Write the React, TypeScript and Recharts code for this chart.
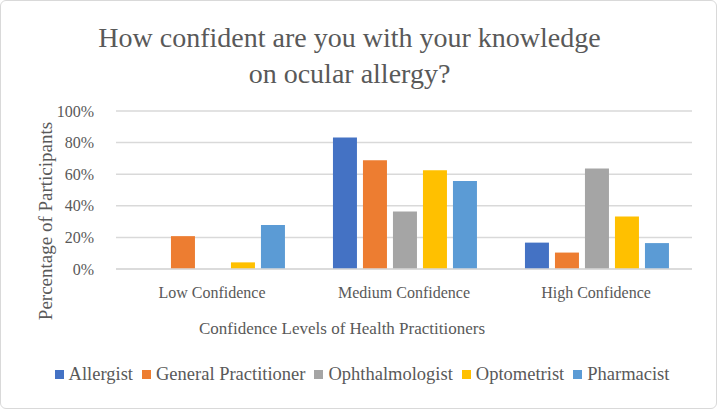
import { BarChart, Bar, XAxis, YAxis, CartesianGrid, Legend, Label } from 'recharts'

const levels = ['Low Confidence', 'Medium Confidence', 'High Confidence']
const allergist = [0, 83.3, 16.7]
const generalPractitioner = [20.8, 68.8, 10.4]
const ophthalmologist = [0, 36.4, 63.6]
const optometrist = [4.2, 62.5, 33.3]
const pharmacist = [27.9, 55.7, 16.4]
const yTicks = [0, 20, 40, 60, 80, 100]

const series = [
  { key: 'Allergist', values: allergist, color: '#4472C4' },
  { key: 'General Practitioner', values: generalPractitioner, color: '#ED7D31' },
  { key: 'Ophthalmologist', values: ophthalmologist, color: '#A5A5A5' },
  { key: 'Optometrist', values: optometrist, color: '#FFC000' },
  { key: 'Pharmacist', values: pharmacist, color: '#5B9BD5' },
]

const data = levels.map((level, i) => {
  const row: Record<string, string | number> = { level }
  series.forEach((s) => {
    row[s.key] = s.values[i]
  })
  return row
})

const FONT = '"Liberation Serif", serif'
const TEXT = '#595959'

function LegendContent() {
  return (
    <div style={{ display: 'flex', justifyContent: 'center', fontFamily: FONT, fontSize: 18.5, color: TEXT, paddingLeft: 40 }}>
      {series.map((s) => (
        <span key={s.key} style={{ display: 'flex', alignItems: 'center', marginRight: 9 }}>
          <span style={{ width: 9, height: 9, background: s.color, display: 'inline-block', marginRight: 5 }} />
          {s.key}
        </span>
      ))}
    </div>
  )
}

// axis titles sit a little off the plot centre in the original
const xTitle = (props: any) => {
  const { x, y, width, height } = props.viewBox
  return (
    <text x={x + width / 2 - 62} y={y + height - 3} textAnchor="middle" fill={TEXT} fontSize={17} fontFamily={FONT}>
      Confidence Levels of Health Practitioners
    </text>
  )
}

const yTitle = (props: any) => {
  const { y, height } = props.viewBox
  const cx = 51
  const cy = y + height / 2 + 31
  return (
    <text x={cx} y={cy} transform={`rotate(-90, ${cx}, ${cy})`} textAnchor="middle" fill={TEXT} fontSize={19} fontFamily={FONT}>
      Percentage of Participants
    </text>
  )
}

export default function App() {
  return (
    <div
      style={{
        position: 'absolute',
        left: 0,
        top: 0,
        width: 717,
        height: 409,
        boxSizing: 'border-box',
        border: '1px solid #d9d9d9',
        borderRadius: 6,
        background: '#fff',
        fontFamily: FONT,
      }}
    >
      <div
        style={{
          position: 'absolute',
          top: 19,
          left: 0,
          width: 697,
          textAlign: 'center',
          fontSize: 28,
          lineHeight: '36px',
          color: TEXT,
        }}
      >
        How confident are you with your knowledge
        <br />
        on ocular allergy?
      </div>
      <BarChart
        width={715}
        height={407}
        data={data}
        margin={{ top: 110, right: 24, bottom: 47, left: 0 }}
        barCategoryGap="13%"
        barGap={6}
      >
        <CartesianGrid vertical={false} stroke="#d9d9d9" strokeWidth={1.5} />
        <XAxis
          dataKey="level"
          height={68}
          tickLine={false}
          axisLine={{ stroke: '#d9d9d9', strokeWidth: 1.5 }}
          tick={{ fill: TEXT, fontSize: 16, fontFamily: FONT }}
          tickMargin={12}
        >
          <Label content={xTitle} />
        </XAxis>
        <YAxis
          width={115}
          domain={[0, 100]}
          ticks={yTicks}
          tickFormatter={(v) => `${v}%`}
          tickLine={false}
          axisLine={false}
          tick={{ fill: TEXT, fontSize: 16, fontFamily: FONT }}
          tickMargin={16}
        >
          <Label content={yTitle} />
        </YAxis>
        <Legend
          verticalAlign="bottom"
          content={<LegendContent />}
          wrapperStyle={{ top: 363, bottom: 'auto', height: 24 }}
        />
        {series.map((s) => (
          <Bar key={s.key} dataKey={s.key} fill={s.color} isAnimationActive={false} />
        ))}
      </BarChart>
    </div>
  )
}
